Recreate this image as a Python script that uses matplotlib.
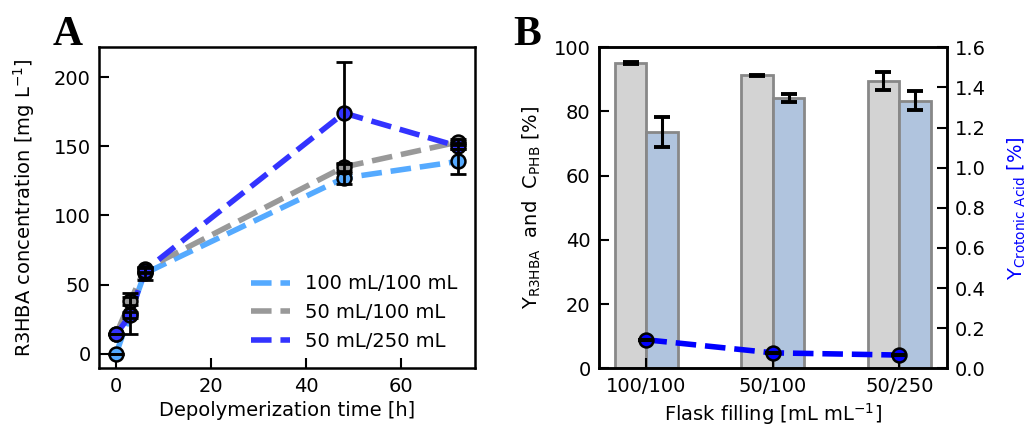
import matplotlib
matplotlib.use("Agg")
import matplotlib.pyplot as plt

# Panel A: R3HBA concentration over depolymerization time
time_h = [0, 3, 6, 48, 72]
r3hba_100_100 = [0, 29, 58, 127, 139]
r3hba_100_100_err = [0, 15, 5, 4, 9]
r3hba_50_100 = [14, 38, 61, 135, 153]
r3hba_50_100_err = [0, 3, 2, 3, 2]
r3hba_50_250 = [14, 28, 60, 174, 150]
r3hba_50_250_err = [0, 2, 2, 37, 2]
series_labels = ['100 mL/100 mL', '50 mL/100 mL', '50 mL/250 mL']

# Panel B: yields per flask filling
flask_labels = ['100/100', '50/100', '50/250']
y_r3hba = [95.1, 91.3, 89.5]
y_r3hba_err = [0.2, 0.2, 2.7]
c_phb = [73.5, 84.3, 83.4]
c_phb_err = [4.7, 1.2, 2.9]
y_crotonic = [0.142, 0.077, 0.066]
y_crotonic_err = [0.004, 0.004, 0.004]

plt.rcParams['font.family'] = ['DejaVu Sans']
plt.rcParams['font.size'] = 14
plt.rcParams['mathtext.default'] = 'regular'

fig = plt.figure(figsize=(10.29, 4.29), dpi=100)
ax1 = fig.add_axes([0.0962, 0.1415, 0.3654, 0.7483])
ax2 = fig.add_axes([0.5821, 0.1415, 0.3379, 0.7483])

def style_ticks(ax, **kw):
    ax.tick_params(direction='in', length=7, width=1.5, pad=6, labelsize=14, **kw)
    for s in ax.spines.values():
        s.set_linewidth(1.8)

# ---- Panel A ----
colors = ['#55aaff', '#999999', '#3333ff']
ys = [r3hba_100_100, r3hba_50_100, r3hba_50_250]
errs = [r3hba_100_100_err, r3hba_50_100_err, r3hba_50_250_err]

for y, c, lab in zip(ys, colors, series_labels):
    ax1.plot(time_h, y, '--', color=c, lw=4, label=lab, zorder=2)
for y, e, c in zip(ys, errs, colors):
    ax1.plot(time_h, y, 'o', ms=10, mfc=c, mec='black', mew=1.8, zorder=3)
    ax1.errorbar(time_h, y, yerr=e, fmt='none', ecolor='black', elinewidth=2,
                 capsize=6, capthick=2, zorder=4)

ax1.set_xticks([0, 20, 40, 60])
ax1.set_yticks([0, 50, 100, 150, 200])
ax1.set_xlabel('Depolymerization time [h]', fontsize=14)
ax1.set_ylabel('R3HBA concentration [mg L$^{-1}$]', fontsize=14, labelpad=12)
style_ticks(ax1)
ax1.legend(loc='lower right', frameon=False, fontsize=14, labelspacing=0.5)

# ---- Panel B ----
x = list(range(len(flask_labels)))
w = 0.25
x_left = [i - w / 2 for i in x]
x_right = [i + w / 2 for i in x]

ax2.bar(x_left, y_r3hba, width=w, color='#d3d3d3', edgecolor='#888888', lw=2)
ax2.bar(x_right, c_phb, width=w, color='#b0c4de', edgecolor='#888888', lw=2)
ax2.errorbar(x_left, y_r3hba, yerr=y_r3hba_err, fmt='none', ecolor='black',
             elinewidth=2.2, capsize=6, capthick=2.8)
ax2.errorbar(x_right, c_phb, yerr=c_phb_err, fmt='none', ecolor='black',
             elinewidth=2.2, capsize=6, capthick=2.8)
ax2.set_ylim(0, 100)
ax2.set_xticks(x)
ax2.set_xticklabels(flask_labels)
ax2.set_yticks([0, 20, 40, 60, 80, 100])
ax2.set_xlabel('Flask filling [mL mL$^{-1}$]', fontsize=14)
ax2.set_ylabel('Y$_{R3HBA}$  and  C$_{PHB}$ [%]', fontsize=14, labelpad=8)
style_ticks(ax2)

ax3 = ax2.twinx()
ax3.plot(x, y_crotonic, '--', color='#0000ff', lw=4, zorder=2)
ax3.plot(x, y_crotonic, 'o', ms=10, mfc='#0000ff', mec='black', mew=1.8, zorder=3)
ax3.errorbar(x, y_crotonic, yerr=y_crotonic_err, fmt='none', ecolor='black',
             elinewidth=1.5, capsize=6, capthick=1.5, zorder=4)
ax3.set_ylim(0, 1.6)
ax3.set_yticks([0.0, 0.2, 0.4, 0.6, 0.8, 1.0, 1.2, 1.4, 1.6])
ax3.set_ylabel('Y$_{Crotonic\\ Acid}$ [%]', fontsize=14, color='#0000ff')
ax3.yaxis.set_label_coords(1.17, 0.5)
style_ticks(ax3)

# panel letters
fig.text(0.0515, 0.895, 'A', fontsize=30, fontweight='bold', family='Liberation Serif')
fig.text(0.4985, 0.895, 'B', fontsize=30, fontweight='bold', family='Liberation Serif')

fig.savefig('out.png', dpi=100)
